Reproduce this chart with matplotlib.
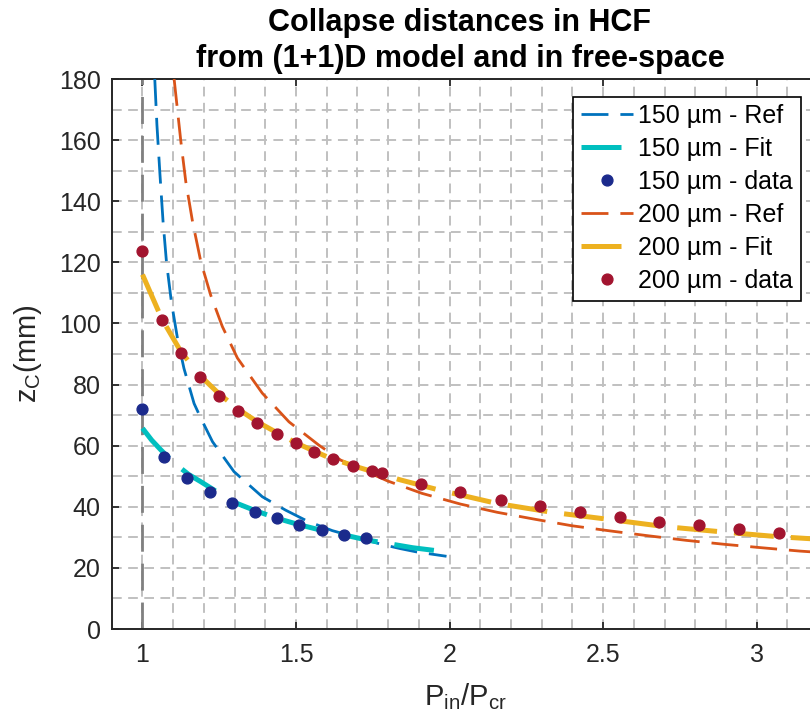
import matplotlib
matplotlib.use("Agg")
import matplotlib.pyplot as plt
from matplotlib.ticker import MultipleLocator

plt.rcParams["font.family"] = ["Liberation Sans", "DejaVu Sans"]
plt.rcParams["mathtext.fontset"] = "custom"
plt.rcParams["mathtext.rm"] = "Liberation Sans"
plt.rcParams["mathtext.it"] = "Liberation Sans:italic"
plt.rcParams["mathtext.bf"] = "Liberation Sans:bold"

# 150 um fibre
ref150_x = [1.040, 1.047, 1.057, 1.067, 1.078, 1.094, 1.114, 1.135, 1.168, 1.19,
            1.228, 1.298, 1.39, 1.466, 1.537, 1.618, 1.775, 1.84, 1.894, 1.99]
ref150_y = [180, 165, 148.6, 133.3, 120.2, 107.1, 95.1, 85.3, 73.8, 69.0,
            61.3, 51.5, 43.3, 38.9, 35.3, 32.2, 27.8, 26.3, 25.2, 23.8]
fit150_x = [1.0, 1.03, 1.06, 1.1, 1.15, 1.19, 1.293, 1.363, 1.439, 1.515,
            1.583, 1.656, 1.732, 1.81, 1.88, 1.96]
fit150_y = [65.7, 61.8, 58.6, 54.6, 50.6, 48.2, 41.7, 38.9, 36.2, 34.0,
            32.3, 30.8, 29.1, 27.8, 26.6, 25.6]
data150_x = [1.0, 1.07, 1.144, 1.22, 1.293, 1.365, 1.439, 1.51, 1.583, 1.656, 1.728]
data150_y = [72.0, 56.3, 49.4, 44.7, 41.3, 38.4, 36.2, 34.0, 32.4, 30.8, 29.7]

# 200 um fibre
ref200_x = [1.103, 1.125, 1.141, 1.163, 1.19, 1.222, 1.26, 1.309, 1.39, 1.477,
            1.574, 1.645, 1.797, 1.91, 2.035, 2.155, 2.279, 2.398, 2.523, 2.648,
            2.772, 2.897, 3.016, 3.141, 3.2]
ref200_y = [180, 159.5, 146.4, 133.3, 120.2, 109.3, 99.0, 88.7, 77.2, 67.8,
            60.2, 55.3, 48.5, 44.4, 40.9, 38.2, 35.9, 33.8, 32.1, 30.5,
            29.0, 27.7, 26.6, 25.5, 25.1]
fit200_x = [1.0, 1.063, 1.125, 1.187, 1.249, 1.311, 1.374, 1.437, 1.5, 1.6,
            1.7, 1.84, 1.965, 2.154, 2.333, 2.517, 2.702, 2.886, 3.07, 3.2]
fit200_y = [116, 101.5, 90.8, 83.0, 77.0, 72.0, 67.8, 64.3, 60.9, 56.4,
            53.0, 48.8, 45.5, 41.1, 38.2, 35.9, 33.5, 31.8, 30.2, 29.4]
data200_x = [1.0, 1.063, 1.125, 1.187, 1.249, 1.311, 1.374, 1.437, 1.499, 1.56,
             1.621, 1.684, 1.746, 1.78, 1.907, 2.035, 2.167, 2.295, 2.425, 2.555,
             2.683, 2.813, 2.942, 3.073]
data200_y = [123.7, 101.1, 90.2, 82.4, 76.3, 71.4, 67.3, 63.8, 60.8, 58.0,
             55.5, 53.4, 51.7, 50.9, 47.6, 44.7, 42.3, 40.2, 38.3, 36.6,
             35.1, 33.9, 32.6, 31.5]

xticks = [1, 1.5, 2, 2.5, 3]
yticks = list(range(0, 181, 20))

fig = plt.figure(figsize=(8.1, 7.25), dpi=100)
ax = fig.add_axes([0.138, 0.1324, 0.872, 0.7586])

ax.plot([1, 1], [0, 180], color="#808080", lw=2, ls=(0, (9.7, 4.3)), zorder=2)

ax.plot(ref150_x, ref150_y, color="#0072BD", lw=2.0, ls=(0, (9.7, 4.3)),
        label="150 µm - Ref", zorder=3)
ax.plot(fit150_x, fit150_y, color="#00BFBF", lw=3.6, ls=(0, (8, 3.4)),
        label="150 µm - Fit", zorder=3)
ax.plot(data150_x, data150_y, "o", color="#1B2A8C", ms=7.8, label="150 µm - data", zorder=5)
ax.plot(ref200_x, ref200_y, color="#D95319", lw=2.0, ls=(0, (9.7, 4.3)),
        label="200 µm - Ref", zorder=3)
ax.plot(fit200_x, fit200_y, color="#EDB120", lw=3.6, ls=(0, (8, 3.4)),
        label="200 µm - Fit", zorder=3)
ax.plot(data200_x, data200_y, "o", color="#A2142F", ms=7.8, label="200 µm - data", zorder=5)

ax.set_xlim(0.9, 3.2)
ax.set_ylim(0, 180)
ax.set_xticks(xticks)
ax.set_xticklabels(["1", "1.5", "2", "2.5", "3"])
ax.set_yticks(yticks)
ax.xaxis.set_minor_locator(MultipleLocator(0.1))
ax.yaxis.set_minor_locator(MultipleLocator(10))
ax.grid(which="both", color="#c0c0c0", ls=(0, (5, 3.3)), lw=1.4)
ax.set_axisbelow(True)

ax.tick_params(which="major", direction="in", length=5, width=1.3, colors="#262626",
               labelsize=18, top=True, right=True)
ax.tick_params(which="minor", length=0)
ax.tick_params(axis="x", pad=10)
ax.tick_params(axis="y", pad=8)
for s in ax.spines.values():
    s.set_color("#262626")
    s.set_linewidth(1.4)

ax.set_title("Collapse distances in HCF\nfrom (1+1)D model and in free-space",
             fontsize=22, fontweight="bold", pad=9, x=0.493, linespacing=1.25)
ax.set_xlabel("P$_{\\mathrm{in}}$/P$_{\\mathrm{cr}}$", fontsize=21, color="#262626", labelpad=10)
ax.set_ylabel("z$_{\\mathrm{C}}$(mm)", fontsize=21, color="#262626", labelpad=11)

leg = ax.legend(loc="upper right", bbox_to_anchor=(800.7 / 810, 1 - 96.7 / 725),
                bbox_transform=fig.transFigure, borderaxespad=0, fontsize=18,
                fancybox=False, framealpha=1, edgecolor="black",
                handlelength=2.1, handletextpad=0.2, labelspacing=0.36, borderpad=0.3)
leg.get_frame().set_linewidth(1.2)

fig.savefig("out.png", dpi=100)
